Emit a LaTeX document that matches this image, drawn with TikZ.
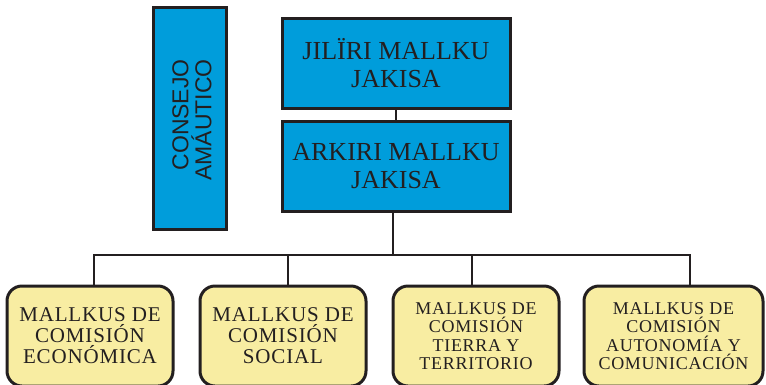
\documentclass[tikz,border=0pt]{standalone}
\usepackage{fontspec}
\setmainfont{Liberation Serif}
\newfontfamily\consejofont{Liberation Sans}
\newfontfamily\comfont[LetterSpace=4]{Liberation Serif}
\definecolor{boxblue}{RGB}{0,157,219}
\definecolor{boxyellow}{RGB}{248,237,162}
\definecolor{ink}{RGB}{35,31,32}
\tikzset{
  bluebox/.style={draw=ink, line width=3pt, fill=boxblue, text=ink, inner sep=0pt, align=center},
  topbox/.style={bluebox, minimum width=228pt, minimum height=90pt, font=\fontsize{26}{28}\selectfont},
  combox/.style={draw=ink, line width=3pt, fill=boxyellow, text=ink, inner sep=0pt, align=center, rounded corners=15pt, minimum height=100pt},
  bigtxt/.style={font=\comfont\fontsize{21}{21}\selectfont},
  smalltxt/.style={font=\comfont\fontsize{18}{18.5}\selectfont},
  link/.style={draw=ink, line width=2.6pt}
}
\begin{document}
\begin{tikzpicture}[x=1pt,y=-1pt]
\useasboundingbox (0,0) rectangle (766,384);
% left council box
\node[bluebox, minimum width=73pt, minimum height=222pt] (consejo) at (189.5,118) {};
\node[text=ink, rotate=90, align=right, inner sep=0pt, font=\consejofont\fontsize{23}{23}\selectfont] (consejotxt) at (192,120) {CONSEJO\\AMÁUTICO};
% top boxes
\node[topbox] (jil) at (396,63) {JILÏRI MALLKU\\JAKISA};
\node[topbox] (ark) at (396,166) {ARKIRI MALLKU\\JAKISA};
% commission boxes
\node[combox, bigtxt, minimum width=166pt] (b1) at (90,336) {MALLKUS DE\\COMISIÓN\\ECONÓMICA};
\node[combox, bigtxt, minimum width=166pt] (b2) at (283,336) {MALLKUS DE\\COMISIÓN\\SOCIAL};
\node[combox, smalltxt, minimum width=166pt] (b3) at (476,336) {MALLKUS DE\\COMISIÓN\\TIERRA Y\\TERRITORIO};
\node[combox, smalltxt, minimum width=179pt] (b4) at (673.5,336) {MALLKUS DE\\COMISIÓN\\AUTONOMÍA Y\\COMUNICACIÓN};
% connectors
\coordinate (bus) at (393,255);
\coordinate (d1) at ([xshift=4pt]b1.north);
\coordinate (d2) at ([xshift=5pt]b2.north);
\coordinate (d3) at ([xshift=-4pt]b3.north);
\coordinate (d4) at ([xshift=16.5pt]b4.north);
\draw[link] (jil.south) -- (ark.north);
\draw[link] (ark.south -| bus) -- (bus);
\draw[link] (d1) |- (bus) -| (d4);
\draw[link] (d2) -- (d2 |- bus);
\draw[link] (d3) -- (d3 |- bus);
\end{tikzpicture}
\end{document}
